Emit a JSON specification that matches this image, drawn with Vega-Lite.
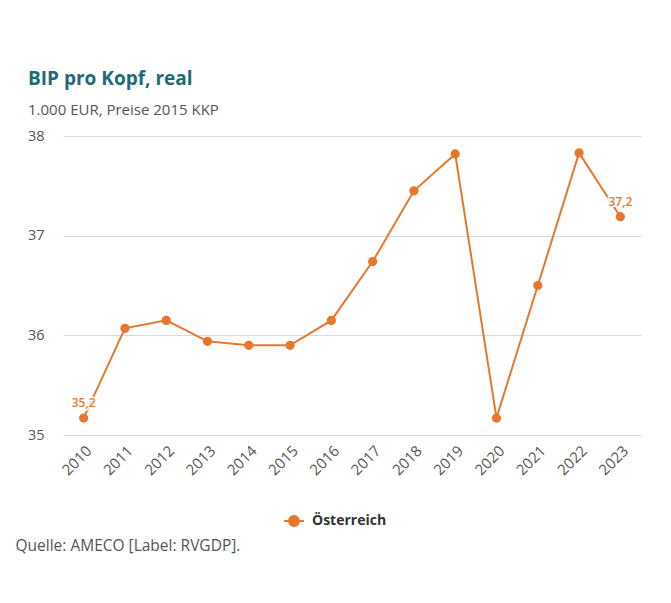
{
  "$schema": "https://vega.github.io/schema/vega-lite/v6.json",
  "width": 578,
  "height": 299,
  "autosize": "none",
  "padding": {"left": 63, "top": 136, "right": 30, "bottom": 168},
  "background": "white",
  "title": {
    "text": "BIP pro Kopf, real",
    "subtitle": "1.000 EUR, Preise 2015 KKP",
    "anchor": "start",
    "frame": "group",
    "dx": -35,
    "offset": 10,
    "font": "Open Sans",
    "fontSize": 19,
    "fontWeight": "bold",
    "color": "#1d6b77",
    "subtitleFont": "Open Sans",
    "subtitleFontSize": 15,
    "subtitleColor": "#555555",
    "subtitlePadding": 14
  },
  "data": {
    "values": [
      {"Jahr": "2010", "Wert": 35.17, "Land": "Österreich", "Beschriftung": "35,2"},
      {"Jahr": "2011", "Wert": 36.07, "Land": "Österreich"},
      {"Jahr": "2012", "Wert": 36.15, "Land": "Österreich"},
      {"Jahr": "2013", "Wert": 35.94, "Land": "Österreich"},
      {"Jahr": "2014", "Wert": 35.90, "Land": "Österreich"},
      {"Jahr": "2015", "Wert": 35.90, "Land": "Österreich"},
      {"Jahr": "2016", "Wert": 36.15, "Land": "Österreich"},
      {"Jahr": "2017", "Wert": 36.74, "Land": "Österreich"},
      {"Jahr": "2018", "Wert": 37.45, "Land": "Österreich"},
      {"Jahr": "2019", "Wert": 37.82, "Land": "Österreich"},
      {"Jahr": "2020", "Wert": 35.17, "Land": "Österreich"},
      {"Jahr": "2021", "Wert": 36.50, "Land": "Österreich"},
      {"Jahr": "2022", "Wert": 37.83, "Land": "Österreich"},
      {"Jahr": "2023", "Wert": 37.19, "Land": "Österreich", "Beschriftung": "37,2"}
    ]
  },
  "encoding": {
    "x": {
      "field": "Jahr",
      "type": "ordinal",
      "scale": {"type": "point", "padding": 0.5},
      "axis": {
        "title": "Quelle: AMECO [Label: RVGDP].",
        "titleX": -48,
        "titleY": 110,
        "titleAnchor": "start",
        "titleAlign": "left",
        "titleBaseline": "middle",
        "titleFont": "Open Sans",
        "titleFontSize": 15.5,
        "titleFontWeight": "normal",
        "titleColor": "#555555",
        "labelAngle": -45,
        "labelFont": "Open Sans",
        "labelFontSize": 15,
        "labelColor": "#555555",
        "labelPadding": 8,
        "ticks": false,
        "domain": false,
        "grid": false
      }
    },
    "y": {
      "field": "Wert",
      "type": "quantitative",
      "scale": {"domain": [35, 38], "nice": false, "zero": false},
      "axis": {
        "title": null,
        "values": [35, 36, 37, 38],
        "labelFont": "Open Sans",
        "labelFontSize": 14.5,
        "labelColor": "#555555",
        "labelPadding": 19,
        "ticks": false,
        "domain": false,
        "gridColor": "#d9d9d9"
      }
    }
  },
  "layer": [
    {
      "mark": {
        "type": "line",
        "strokeWidth": 2,
        "point": {"filled": true, "size": 85, "color": "#e8772e"}
      },
      "encoding": {
        "color": {
          "field": "Land",
          "type": "nominal",
          "scale": {"range": ["#e8772e"]},
          "legend": {
            "title": null,
            "orient": "none",
            "legendX": 220,
            "legendY": 374,
            "symbolType": "M-1,0H1M0.5,0A0.5,0.5,0,1,1,-0.5,0A0.5,0.5,0,1,1,0.5,0Z",
            "symbolSize": 400,
            "symbolStrokeWidth": 2,
            "symbolFillColor": "#e8772e",
            "symbolStrokeColor": "#e8772e",
            "labelFont": "Open Sans",
            "labelFontSize": 14,
            "labelFontWeight": "bold",
            "labelColor": "#333333",
            "labelOffset": 7
          }
        }
      }
    },
    {
      "transform": [{"filter": "isValid(datum.Beschriftung)"}],
      "mark": {
        "type": "text",
        "dy": -15,
        "font": "Open Sans",
        "fontSize": 12,
        "fontWeight": 600,
        "color": "white",
        "stroke": "white",
        "strokeWidth": 3,
        "strokeJoin": "round"
      },
      "encoding": {
        "text": {"field": "Beschriftung", "type": "nominal"}
      }
    },
    {
      "transform": [{"filter": "isValid(datum.Beschriftung)"}],
      "mark": {
        "type": "text",
        "dy": -15,
        "font": "Open Sans",
        "fontSize": 12,
        "fontWeight": 600,
        "color": "#e8772e"
      },
      "encoding": {
        "text": {"field": "Beschriftung", "type": "nominal"}
      }
    }
  ],
  "config": {
    "view": {"stroke": null}
  }
}
